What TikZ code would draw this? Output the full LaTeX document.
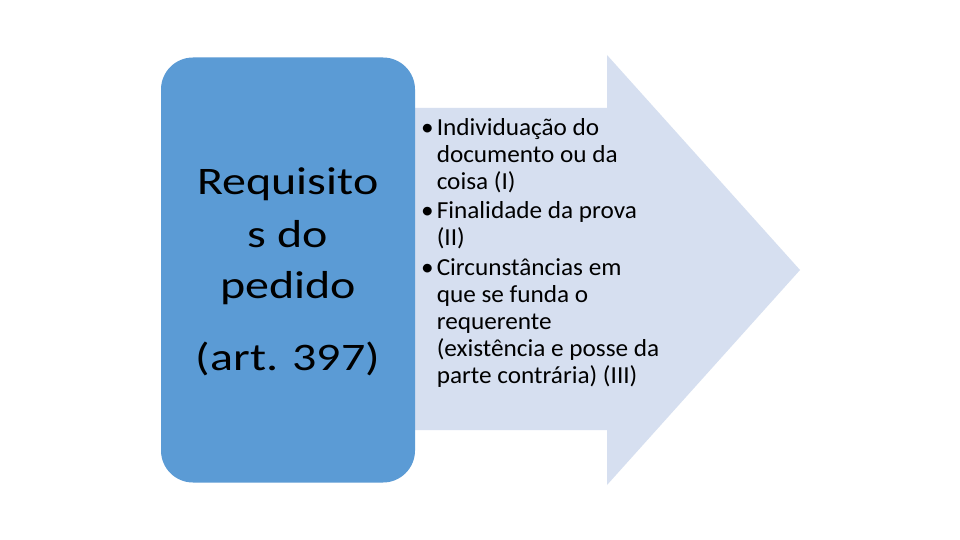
\documentclass[tikz,border=0pt]{standalone}
\usepackage{fontspec}
\setmainfont{Carlito}
\newfontfamily\leftfont[FakeStretch=1.23]{Carlito}
\newfontfamily\rightfont[FakeStretch=1.03]{Carlito}
\definecolor{boxblue}{RGB}{91,155,213}
\definecolor{arrowfill}{RGB}{214,223,240}
\tikzset{
  reqbox/.style={fill=boxblue, draw=none, rounded corners=32pt, minimum width=254pt, minimum height=425pt, inner sep=0pt},
  lefttext/.style={font=\leftfont\fontsize{39}{52}\selectfont, text=black, inner sep=0pt},
  itemtext/.style={font=\rightfont\fontsize{24.5}{27}\selectfont, text=black, inner sep=0pt}
}
\begin{document}
\begin{tikzpicture}[x=1pt,y=-1pt]
\useasboundingbox (0,0) rectangle (960,540);
\fill[white] (0,0) rectangle (960,540);
% arrow
\fill[arrowfill] (415,108) -- (607,108) -- (607,55) -- (800,270) -- (607,485) -- (607,430) -- (415,430) -- cycle;
% left box
\node[reqbox] (req) at (288,270) {};
\node[lefttext, anchor=base] (l1) at (288,194) {Requisito};
\node[lefttext, anchor=base] (l2) at (288,247) {s do};
\node[lefttext, anchor=base] (l3) at (288,298) {pedido};
\node[lefttext, anchor=base] (l4) at (288,370) {(art. 397)};
% items
\node[itemtext, anchor=base west] (i1) at (421,135.7) {\begin{tabular}[t]{@{}l@{\hskip 3pt}l@{}}\textbullet & Individuação do\\ & documento ou da\\ & coisa (I)\end{tabular}};
\node[itemtext, anchor=base west] (i2) at (421,218) {\begin{tabular}[t]{@{}l@{\hskip 3pt}l@{}}\textbullet & Finalidade da prova\\ & (II)\end{tabular}};
\node[itemtext, anchor=base west] (i3) at (421,275.7) {\begin{tabular}[t]{@{}l@{\hskip 3pt}l@{}}\textbullet & Circunstâncias em\\ & que se funda o\\ & requerente\\ & (existência e posse da\\ & parte contrária) (III)\end{tabular}};
\end{tikzpicture}
\end{document}
